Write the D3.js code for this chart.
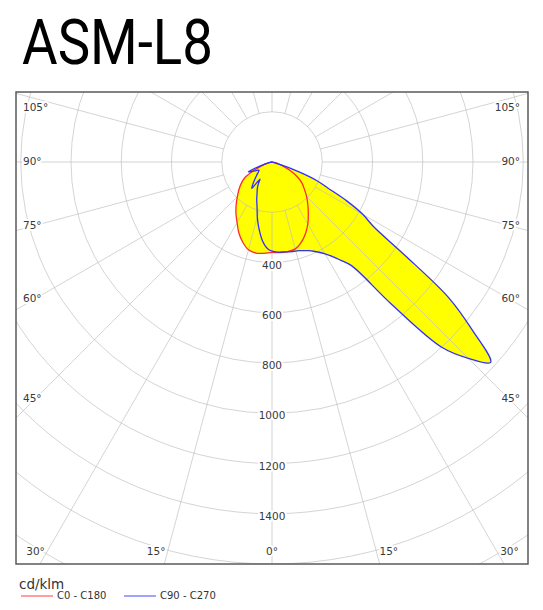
<!DOCTYPE html>
<html>
<head>
<meta charset="utf-8">
<script src="https://cdn.jsdelivr.net/npm/d3@7"></script>
<style>
  html, body { margin:0; padding:0; background:#fff; }
  svg text { font-family:"DejaVu Sans", Verdana, sans-serif; }
</style>
</head>
<body>
<div id="chart"></div>
<script>
// polar light distribution, cd/klm

const TITLE = "ASM-L8";
const UNIT  = "cd/klm";

// C0 - C180 plane, 5° steps
const GAMMA_RED = [0, 5, 10, 15, 20, 25, 30, 35, 40, 45, 50, 55, 60, 65, 70, 75, 80, 85, 90];
const C0   = [360, 362, 362, 358, 340, 315, 285, 252, 222, 195, 168, 145, 115, 78, 45, 25, 10, 3, 0];
const C180 = [360, 365, 368, 362, 340, 312, 278, 250, 222, 195, 172, 150, 125, 80, 42, 20, 8, 2, 0];

// C90 - C270 plane, 2.5° steps
const GAMMA_BLUE = [0, 2.5, 5, 7.5, 10, 12.5, 15, 17.5, 20, 22.5, 25, 27.5, 30, 32.5, 35, 37.5,
                    40, 42.5, 45, 47.5, 50, 52.5, 55, 57.5, 60, 62.5, 65, 67.5, 70, 72.5, 75, 77.5, 80];
const C90  = [357, 358, 360, 361, 363, 365, 367, 370, 375, 382, 392, 405, 422, 445, 478, 520,
              735, 1000, 1105, 1180, 1040, 885, 640, 480, 418, 335, 245, 192, 112, 38, 8, 2, 0];
const C270 = [355, 348, 332, 310, 282, 254, 226, 197, 176, 159, 141, 128, 115, 100, 83, 132,
              120, 108, 96, 86, 78, 70, 65, 61, 65, 76, 88, 102, 70, 38, 18, 8, 0];

const RING_VALUES   = [200, 400, 600, 800, 1000, 1200, 1400, 1600, 1800, 2000, 2200, 2400];
const RING_LABELS   = [400, 600, 800, 1000, 1200, 1400];
const SPOKE_ANGLES  = d3.range(0, 360, 15);
const SIDE_LABELS   = [105, 90, 75, 60, 45];
const BOTTOM_LABELS = [30, 15, 0];

const SERIES = [
  { name:"C0 - C180",  gamma:GAMMA_RED,  left:C180, right:C0,  color:"#ff2a2a" },
  { name:"C90 - C270", gamma:GAMMA_BLUE, left:C270, right:C90, color:"#3030ff" },
];

const W = 543, H = 610;
const frame = { x0:16, y0:92, x1:528, y1:564 };
const cx = 272, cy = 162;

const svg = d3.select("#chart").append("svg")
  .attr("width", W).attr("height", H);

const r = d3.scaleLinear().domain([0, 1600]).range([0, 402]);

// point on the diagram; side -1 = left half, +1 = right half, gamma 0 = straight down
function pos(side, g, v) {
  const a = g * Math.PI / 180;
  return [cx + side * r(v) * Math.sin(a), cy + r(v) * Math.cos(a)];
}

// ── title ─────────────────────────────────────────────────────────────
svg.append("text")
  .attr("x", 22).attr("y", 64)
  .attr("textLength", 191)
  .attr("lengthAdjust", "spacingAndGlyphs")
  .style("font-family", "Roboto, 'DejaVu Sans', sans-serif")
  .style("font-weight", 400)
  .style("font-size", "63px")
  .style("fill", "#000")
  .text(TITLE);

svg.append("defs").append("clipPath").attr("id", "clip")
  .append("rect")
  .attr("x", frame.x0).attr("y", frame.y0)
  .attr("width", frame.x1 - frame.x0).attr("height", frame.y1 - frame.y0);

const plot = svg.append("g").attr("clip-path", "url(#clip)");

// ── fills ─────────────────────────────────────────────────────────────
const line = d3.line().curve(d3.curveCatmullRom.alpha(0.5));

SERIES.forEach(s => {
  const pts = [];
  for (let i = s.gamma.length - 1; i >= 0; i--) pts.push(pos(-1, s.gamma[i], s.left[i]));
  for (let i = 1; i < s.gamma.length; i++) pts.push(pos(1, s.gamma[i], s.right[i]));
  s.d = line(pts) + "Z";
});

plot.append("g").selectAll("path")
  .data(SERIES)
  .enter().append("path")
  .attr("d", d => d.d)
  .attr("fill", "#ffff00")
  .attr("stroke", "none");

// ── grid ──────────────────────────────────────────────────────────────
const grid = plot.append("g")
  .attr("stroke", "#bdbdbd")
  .attr("stroke-opacity", 0.65)
  .attr("fill", "none")
  .attr("stroke-width", 1);

grid.selectAll("circle")
  .data(RING_VALUES)
  .enter().append("circle")
  .attr("cx", cx).attr("cy", cy)
  .attr("r", d => r(d));

grid.selectAll("line")
  .data(SPOKE_ANGLES)
  .enter().append("line")
  .attr("x1", d => pos(1, d, 200)[0])
  .attr("y1", d => pos(1, d, 200)[1])
  .attr("x2", d => pos(1, d, 3000)[0])
  .attr("y2", d => pos(1, d, 3000)[1]);

// ── curves ────────────────────────────────────────────────────────────
plot.append("g").selectAll("path")
  .data(SERIES)
  .enter().append("path")
  .attr("d", d => d.d)
  .attr("fill", "none")
  .attr("stroke", d => d.color)
  .attr("stroke-width", 1.3)
  .attr("stroke-linejoin", "round");

// ── labels ────────────────────────────────────────────────────────────
const halo = sel => sel
  .style("paint-order", "stroke")
  .style("stroke", "#fff")
  .style("stroke-width", "4px")
  .style("stroke-linejoin", "round");

svg.append("g").selectAll("text")
  .data(RING_LABELS)
  .enter().append("text")
  .attr("x", cx)
  .attr("y", d => cy + r(d) + 3)
  .attr("text-anchor", "middle")
  .attr("dominant-baseline", "middle")
  .style("font-size", "10.5px")
  .style("fill", "#3a3a3a")
  .call(halo)
  .text(d => d);

const sideY = g => Math.max(108, cy + (cx - 35) / Math.tan(g * Math.PI / 180));

[-1, 1].forEach(side => {
  svg.append("g").selectAll("text")
    .data(SIDE_LABELS)
    .enter().append("text")
    .attr("x", side < 0 ? 23 : 520)
    .attr("y", d => sideY(d))
    .attr("text-anchor", side < 0 ? "start" : "end")
    .attr("dominant-baseline", "middle")
    .style("font-size", "10.5px")
    .style("fill", "#3a3a3a")
    .call(halo)
    .text(d => d + "°");

  svg.append("g").selectAll("text")
    .data(BOTTOM_LABELS.filter(d => side < 0 || d > 0))
    .enter().append("text")
    .attr("x", d => {
      const sx = cx + side * (552 - cy) * Math.tan(d * Math.PI / 180);
      if (d === 0) return sx;
      return side < 0 ? sx - 2 : sx + 3;
    })
    .attr("y", 552)
    .attr("text-anchor", d => d === 0 ? "middle" : (side < 0 ? "end" : "start"))
    .attr("dominant-baseline", "middle")
    .style("font-size", "10.5px")
    .style("fill", "#3a3a3a")
    .call(halo)
    .text(d => d + "°");
});

// frame
svg.append("rect")
  .attr("x", frame.x0).attr("y", frame.y0)
  .attr("width", frame.x1 - frame.x0).attr("height", frame.y1 - frame.y0)
  .attr("fill", "none")
  .attr("stroke", "#5a5a5a")
  .attr("stroke-width", 1.5);

// ── legend ────────────────────────────────────────────────────────────
svg.append("text")
  .attr("x", 19).attr("y", 589)
  .style("font-size", "13.5px")
  .style("fill", "#333")
  .text(UNIT);

const leg = svg.append("g").selectAll("g")
  .data(SERIES)
  .enter().append("g")
  .attr("transform", (d, i) => `translate(${21 + i * 103},596)`);

leg.append("line")
  .attr("x1", 0).attr("x2", 32)
  .attr("stroke", d => d.color)
  .attr("stroke-opacity", 0.6)
  .attr("stroke-width", 1.5);

leg.append("text")
  .attr("x", 36).attr("y", 0)
  .attr("dominant-baseline", "middle")
  .style("font-size", "10px")
  .style("fill", "#333")
  .text(d => d.name);
</script>
</body>
</html>
